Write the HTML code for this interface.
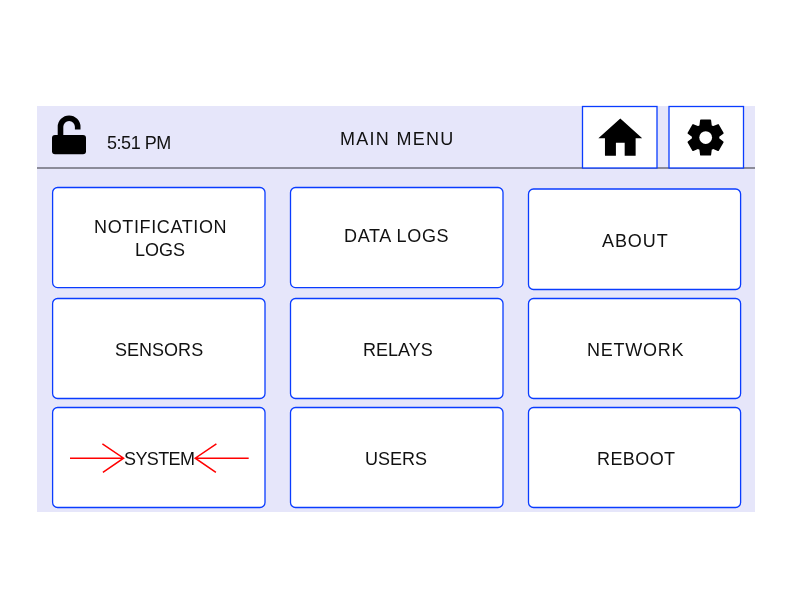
<!DOCTYPE html>
<html>
<head>
<meta charset="utf-8">
<style>
html,body{margin:0;padding:0;background:#fff;width:792px;height:612px;overflow:hidden;}
body{position:relative;font-family:"Liberation Sans",sans-serif;color:#111;}
.panel{position:absolute;left:37px;top:106px;width:718px;height:406px;background:#e6e6fa;}
.sep{position:absolute;left:37px;top:167px;width:718px;height:2px;background:#8b8b99;}
.t{position:absolute;font-size:18px;line-height:18px;white-space:nowrap;will-change:transform;}
svg{position:absolute;overflow:visible;}
</style>
</head>
<body>
<div class="panel"></div>
<div class="sep"></div>

<!-- buttons -->
<svg style="left:0;top:0" width="792" height="612" viewBox="0 0 792 612">
  <g fill="#fff" stroke="#0a3cff" stroke-width="1.3">
    <rect x="582.5" y="106.5" width="74.5" height="61.5"/>
    <rect x="669" y="106.5" width="74.5" height="61.5"/>
    <rect x="52.6" y="187.5" width="212.4" height="100.1" rx="5"/>
    <rect x="290.5" y="187.5" width="212.5" height="100.1" rx="5"/>
    <rect x="528.5" y="189" width="212.1" height="100.5" rx="5"/>
    <rect x="52.6" y="298.5" width="212.4" height="100" rx="5"/>
    <rect x="290.5" y="298.5" width="212.5" height="100" rx="5"/>
    <rect x="528.5" y="298.5" width="212.1" height="100" rx="5"/>
    <rect x="52.6" y="407.5" width="212.4" height="100" rx="5"/>
    <rect x="290.5" y="407.5" width="212.5" height="100" rx="5"/>
    <rect x="528.5" y="407.5" width="212.1" height="100" rx="5"/>
  </g>
</svg>

<!-- lock icon -->
<svg style="left:0;top:0" width="792" height="612" viewBox="0 0 792 612">
  <path d="M60.5 136 V126.8 A8.6 8.6 0 0 1 77.7 126.8 V129.6" fill="none" stroke="#000" stroke-width="5.6"/>
  <rect x="52" y="135" width="34" height="19.2" rx="3" fill="#000"/>
</svg>

<!-- home icon -->
<svg style="left:593.9px;top:111.5px" width="52.6" height="52.6" viewBox="0 0 24 24">
  <path d="M10 20v-6h4v6h5v-8h3L12 3 2 12h3v8z" fill="#000"/>
</svg>

<!-- gear icon -->
<svg style="left:684.4px;top:116.2px" width="43.2" height="43.2" viewBox="0 -960 960 960">
  <g transform="translate(480 -480) scale(0.955) translate(-480 480)">
    <path d="m370-80-16-128q-13-5-24.5-12T307-235l-119 50L78-375l103-78q-1-7-1-13.5v-27q0-6.5 1-13.5L78-585l110-190 119 50q11-8 23-15t24-12l16-128h220l16 128q13 5 24.5 12t22.5 15l119-50 110 190-103 78q1 7 1 13.5v27q0 6.5-2 13.5l103 78-110 190-118-50q-11 8-23 15t-24 12L590-80H370Z" fill="#000" stroke="#000" stroke-width="37" stroke-linejoin="round"/>
  </g>
  <circle cx="482" cy="-480" r="142" fill="#fff"/>
</svg>

<div class="t" style="left:106.60px;top:134.00px;letter-spacing:-0.463px">5:51 PM</div>
<div class="t" style="left:340.00px;top:130.00px;letter-spacing:1.275px">MAIN MENU</div>
<div class="t" style="left:93.80px;top:218.00px;letter-spacing:0.633px">NOTIFICATION</div>
<div class="t" style="left:135.00px;top:241.00px;letter-spacing:-0.003px">LOGS</div>
<div class="t" style="left:344.00px;top:227.00px;letter-spacing:0.650px">DATA LOGS</div>
<div class="t" style="left:601.80px;top:232.00px;letter-spacing:0.930px">ABOUT</div>
<div class="t" style="left:115.20px;top:341.00px;letter-spacing:0.020px">SENSORS</div>
<div class="t" style="left:362.60px;top:341.00px;letter-spacing:-0.000px">RELAYS</div>
<div class="t" style="left:586.80px;top:341.00px;letter-spacing:0.747px">NETWORK</div>
<div class="t" style="left:123.60px;top:450.00px;letter-spacing:-0.600px">SYSTEM</div>
<div class="t" style="left:365.40px;top:450.00px;letter-spacing:0.000px">USERS</div>
<div class="t" style="left:596.60px;top:450.00px;letter-spacing:0.420px">REBOOT</div>

<!-- red arrows -->
<svg style="left:0;top:0" width="792" height="612" viewBox="0 0 792 612">
  <g fill="none" stroke="#ff0000" stroke-width="1.5" stroke-linecap="butt">
    <path d="M70 458.2 H123.6 M102.4 443.8 L123.6 458.2 L102.9 472.4"/>
    <path d="M248.7 458.2 H195.2 M216.4 443.8 L195.2 458.2 L215.9 472.4"/>
  </g>
</svg>
</body>
</html>
